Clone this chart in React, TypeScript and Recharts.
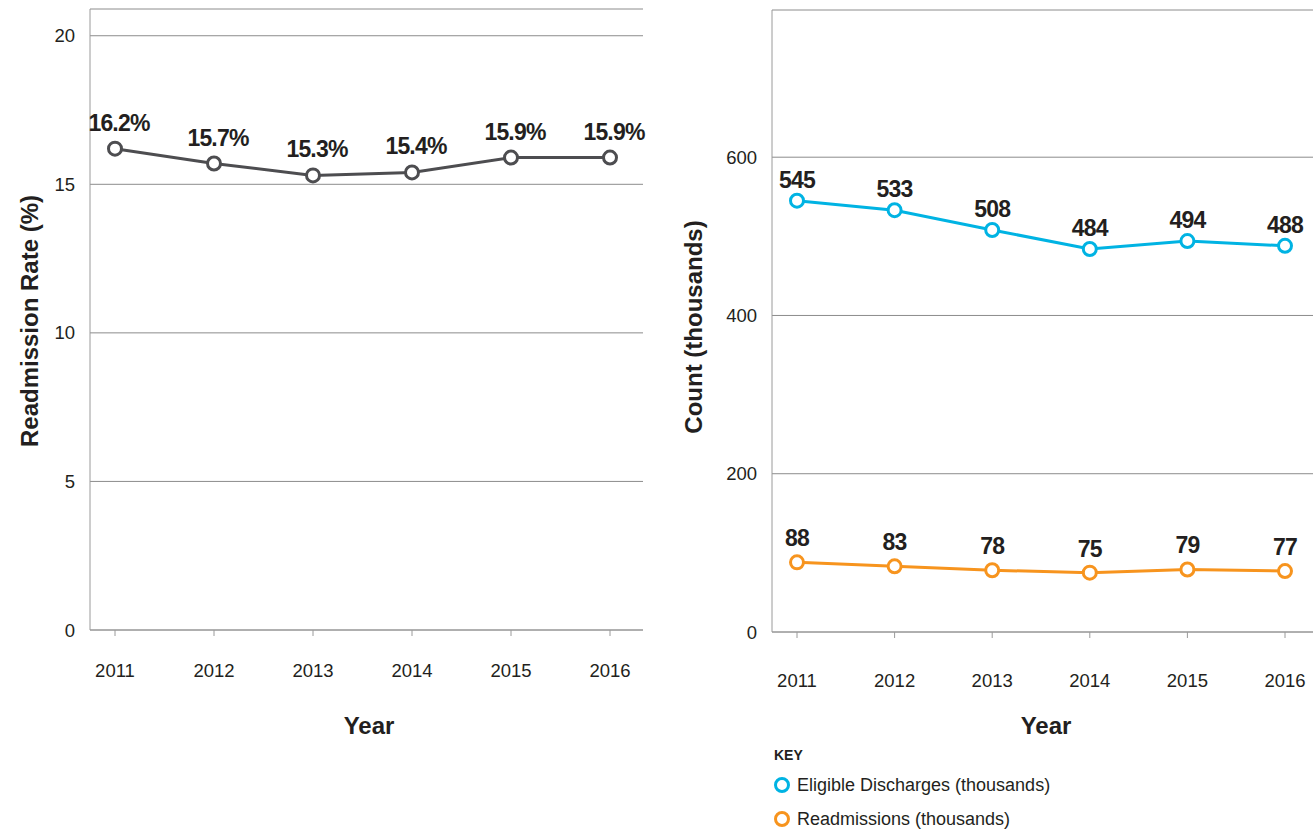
import { LineChart, Line, XAxis, YAxis, CartesianGrid, LabelList, Label, Legend } from "recharts";

const years = ["2011", "2012", "2013", "2014", "2015", "2016"];
const readmissionRate = [16.2, 15.7, 15.3, 15.4, 15.9, 15.9];
const eligibleDischarges = [545, 533, 508, 484, 494, 488];
const readmissions = [88, 83, 78, 75, 79, 77];
const rateTicks = [0, 5, 10, 15, 20];
const countTicks = [0, 200, 400, 600];

const FONT = "'Liberation Sans', Arial, Helvetica, sans-serif";
const TEXT = "#231f20";
const AXIS = "#9a9a9a";
const GRID = "#8c8c8c";
const GRAY_LINE = "#4d4d50";
const BLUE = "#00b3e3";
const ORANGE = "#f7941e";

const rateData = years.map((year, i) => ({ year, rate: readmissionRate[i] }));
const countData = years.map((year, i) => ({
  year,
  discharges: eligibleDischarges[i],
  readmissions: readmissions[i],
}));

const tickStyle = { fill: TEXT, fontSize: 18.5, fontFamily: FONT };

function valueLabel(lift: number, dx: number, fmt: (v: number) => string) {
  return (props: any) => {
    const x = props.x ?? props.viewBox?.x;
    const y = props.y ?? props.viewBox?.y;
    if (x == null || y == null) return null;
    return (
      <text
        x={x + dx}
        y={y - lift}
        textAnchor="middle"
        fill={TEXT}
        fontFamily={FONT}
        fontWeight="bold"
        fontSize={23}
        letterSpacing={-0.8}
      >
        {fmt(Number(props.value))}
      </text>
    );
  };
}

function title(text: string, x: number, y: number, rotate = false) {
  return () => (
    <text
      x={x}
      y={y}
      textAnchor="middle"
      dominantBaseline="central"
      transform={rotate ? `rotate(-90 ${x} ${y})` : undefined}
      fill={TEXT}
      fontFamily={FONT}
      fontWeight="bold"
      fontSize={24}
    >
      {text}
    </text>
  );
}

const KeyLegend = () => (
  <div style={{ fontFamily: FONT, color: TEXT }}>
    <div style={{ fontSize: 14, fontWeight: "bold", height: 20, lineHeight: "20px" }}>KEY</div>
    {[
      { name: "Eligible Discharges (thousands)", color: BLUE },
      { name: "Readmissions (thousands)", color: ORANGE },
    ].map((item, i) => (
      <div
        key={item.name}
        style={{ display: "flex", alignItems: "center", height: 20, marginTop: i === 0 ? 10 : 14, fontSize: 18 }}
      >
        <svg width={18} height={18} style={{ marginRight: 6, marginLeft: -1 }}>
          <circle cx={9} cy={9} r={6.5} fill="#fff" stroke={item.color} strokeWidth={3} />
        </svg>
        <span>{item.name}</span>
      </div>
    ))}
  </div>
);

function RateChart() {
  return (
    <LineChart
      width={660}
      height={760}
      data={rateData}
      margin={{ top: 9, right: 17, bottom: 100, left: 0 }}
    >
      <CartesianGrid horizontal vertical={false} stroke={GRID} />
      <XAxis
        dataKey="year"
        height={30}
        padding={{ left: 25, right: 33 }}
        stroke={AXIS}
        tickSize={6}
        tickMargin={28}
        tick={tickStyle}
      >
        <Label content={title("Year", 369, 725)} />
      </XAxis>
      <YAxis
        width={90}
        domain={[0, 20.9]}
        ticks={rateTicks}
        stroke={AXIS}
        tickLine={false}
        tickSize={6}
        tickMargin={9}
        tick={tickStyle}
      >
        <Label content={title("Readmission Rate (%)", 29, 321, true)} />
      </YAxis>
      <Line
        dataKey="rate"
        stroke={GRAY_LINE}
        strokeWidth={3}
        dot={{ r: 6.5, fill: "#fff", stroke: GRAY_LINE, strokeWidth: 3 }}
        isAnimationActive={false}
      >
        <LabelList dataKey="rate" content={valueLabel(18, 4, (v) => `${v.toFixed(1)}%`)} />
      </Line>
    </LineChart>
  );
}

function CountChart() {
  return (
    <LineChart
      width={656}
      height={830}
      data={countData}
      margin={{ top: 10, right: 3, bottom: 168, left: 0 }}
    >
      <CartesianGrid horizontal vertical={false} stroke={GRID} />
      <XAxis
        dataKey="year"
        height={30}
        padding={{ left: 25, right: 28 }}
        stroke={AXIS}
        tickSize={6}
        tickMargin={36}
        tick={tickStyle}
      >
        <Label content={title("Year", 386, 725)} />
      </XAxis>
      <YAxis
        width={112}
        domain={[0, 786]}
        ticks={countTicks}
        stroke={AXIS}
        tickLine={false}
        tickSize={6}
        tickMargin={9}
        tick={tickStyle}
      >
        <Label content={title("Count (thousands)", 33, 327, true)} />
      </YAxis>
      <Legend
        layout="vertical"
        align="center"
        verticalAlign="middle"
        content={<KeyLegend />}
        wrapperStyle={{ left: 114, top: 745, width: 340, height: 80 }}
      />
      <Line
        dataKey="discharges"
        name="Eligible Discharges (thousands)"
        stroke={BLUE}
        strokeWidth={3}
        dot={{ r: 6.5, fill: "#fff", stroke: BLUE, strokeWidth: 3 }}
        isAnimationActive={false}
      >
        <LabelList dataKey="discharges" content={valueLabel(13, 0, (v) => String(v))} />
      </Line>
      <Line
        dataKey="readmissions"
        name="Readmissions (thousands)"
        stroke={ORANGE}
        strokeWidth={3}
        dot={{ r: 6.5, fill: "#fff", stroke: ORANGE, strokeWidth: 3 }}
        isAnimationActive={false}
      >
        <LabelList dataKey="readmissions" content={valueLabel(16, 0, (v) => String(v))} />
      </Line>
    </LineChart>
  );
}

export default function App() {
  return (
    <div style={{ position: "absolute", left: 0, top: 0, width: 1316, height: 830, background: "#fff" }}>
      <div style={{ position: "absolute", left: 0, top: 0 }}>
        <RateChart />
      </div>
      <div style={{ position: "absolute", left: 660, top: 0 }}>
        <CountChart />
      </div>
    </div>
  );
}
